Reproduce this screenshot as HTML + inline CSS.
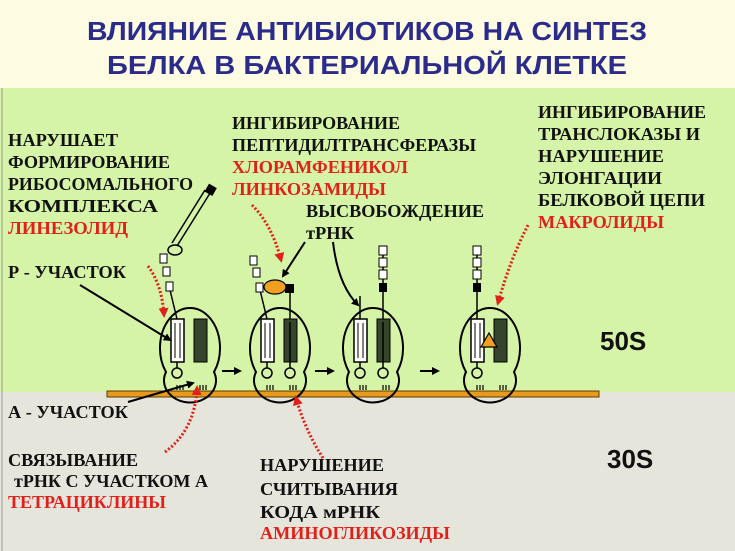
<!DOCTYPE html>
<html><head><meta charset="utf-8"><style>
html,body{margin:0;padding:0;width:735px;height:551px;overflow:hidden;background:#e6e5dc}
svg{display:block}
.t{font-family:"Liberation Serif",serif;font-size:18px;font-weight:bold;fill:#111}
.r{fill:#e0201a}
.h{font-family:"Liberation Sans",sans-serif;font-weight:bold;font-size:26px;fill:#2b2b8c}
</style></head><body>
<svg width="735" height="551" viewBox="0 0 735 551" xmlns="http://www.w3.org/2000/svg">
<defs>
<marker id="ab" markerWidth="8" markerHeight="8" refX="6" refY="4" orient="auto" markerUnits="userSpaceOnUse"><path d="M0,0 L8,4 L0,8 z" fill="#000"/></marker>
<marker id="ar" markerWidth="10" markerHeight="10" refX="7" refY="5" orient="auto" markerUnits="userSpaceOnUse"><path d="M0,0 L10,5 L0,10 z" fill="#e0201a"/></marker>
<g id="ribo">
<path d="M-24 372 A30 40 0 1 1 24 372 A26 22 0 1 1 -24 372 Z" fill="none" stroke="#000" stroke-width="2"/>
</g>
<g id="trnaL">
<rect x="-19" y="319" width="13" height="43" fill="#fff" stroke="#000" stroke-width="1.5"/>
<path d="M-15 323 V358 M-10 323 V358" stroke="#000" stroke-width="1"/>
<path d="M-13 362 V368" stroke="#000" stroke-width="1.5"/>
<ellipse cx="-13" cy="373" rx="5" ry="5" fill="none" stroke="#000" stroke-width="1.5"/>
</g>
<g id="cod"><path d="M-5 385 V390 M-2 385 V390 M1 385 V390" stroke="#000" stroke-width="1.2"/></g>
</defs>
<rect x="0" y="0" width="735" height="88" fill="#fdfbe2"/>
<rect x="0" y="88" width="735" height="304" fill="#d6f4a8"/>
<line x1="2" y1="88" x2="2" y2="551" stroke="#999" stroke-width="1"/>
<text class="h" x="367" y="40" text-anchor="middle" textLength="560" lengthAdjust="spacingAndGlyphs">ВЛИЯНИЕ АНТИБИОТИКОВ НА СИНТЕЗ</text>
<text class="h" x="367" y="74" text-anchor="middle" textLength="520" lengthAdjust="spacingAndGlyphs">БЕЛКА В БАКТЕРИАЛЬНОЙ КЛЕТКЕ</text>

<rect x="107" y="391" width="492" height="6" fill="#e89a1c" stroke="#5a3a00" stroke-width="1"/>

<g transform="translate(190,0)">
<use href="#ribo"/><use href="#trnaL"/>
<rect x="4" y="319" width="13" height="43" fill="#34452c" stroke="#000"/>
<g transform="translate(-8,0)"><use href="#cod"/></g><g transform="translate(15,0)"><use href="#cod"/></g>
<path d="M-13 319 L-20 290" stroke="#000" stroke-width="1.5" fill="none"/>
<rect x="-24" y="282" width="7" height="9" fill="#fff" stroke="#000"/>
<rect x="-27" y="267" width="7" height="9" fill="#fff" stroke="#000"/>
<rect x="-30" y="254" width="7" height="9" fill="#fff" stroke="#000"/>
</g>
<path d="M212 190 L177 246 M205 190 L172 243" stroke="#000" stroke-width="1.5"/>
<rect x="206" y="185" width="9" height="9" fill="#000" transform="rotate(30 210 190)"/>
<ellipse cx="175" cy="250" rx="7" ry="5" fill="none" stroke="#000" stroke-width="1.5"/>

<g transform="translate(280,0)">
<use href="#ribo"/><use href="#trnaL"/>
<rect x="4" y="319" width="13" height="43" fill="#34452c" stroke="#000"/>
<path d="M10 322 V362 M10 362 V368" stroke="#000" stroke-width="1.5"/>
<ellipse cx="10" cy="373" rx="5" ry="5" fill="none" stroke="#000" stroke-width="1.5"/>
<g transform="translate(-8,0)"><use href="#cod"/></g><g transform="translate(15,0)"><use href="#cod"/></g>
<path d="M-13 319 L-20 290" stroke="#000" stroke-width="1.5"/>
<path d="M10 319 V293" stroke="#000" stroke-width="1.5"/>
<rect x="5" y="284" width="9" height="9" fill="#000"/>
<ellipse cx="-5" cy="287" rx="11" ry="7" fill="#f0a020" stroke="#000" stroke-width="1.2"/>
<rect x="-24" y="283" width="7" height="9" fill="#fff" stroke="#000"/>
<rect x="-27" y="268" width="7" height="9" fill="#fff" stroke="#000"/>
<rect x="-30" y="256" width="7" height="9" fill="#fff" stroke="#000"/>
</g>

<g transform="translate(373,0)">
<use href="#ribo"/><use href="#trnaL"/>
<rect x="4" y="319" width="13" height="43" fill="#34452c" stroke="#000"/>
<path d="M10 322 V368" stroke="#000" stroke-width="1.5"/>
<ellipse cx="10" cy="373" rx="5" ry="5" fill="none" stroke="#000" stroke-width="1.5"/>
<g transform="translate(-8,0)"><use href="#cod"/></g><g transform="translate(15,0)"><use href="#cod"/></g>
<path d="M-13 319 V296" stroke="#000" stroke-width="1.5"/>
<path d="M10 319 V250" stroke="#000" stroke-width="1.5"/>
<rect x="6" y="283" width="8" height="9" fill="#000"/>
<rect x="6" y="270" width="8" height="9" fill="#fff" stroke="#000"/>
<rect x="6" y="258" width="8" height="9" fill="#fff" stroke="#000"/>
<rect x="6" y="246" width="8" height="9" fill="#fff" stroke="#000"/>
</g>

<g transform="translate(490,0)">
<use href="#ribo"/><use href="#trnaL"/>
<rect x="4" y="319" width="13" height="43" fill="#34452c" stroke="#000"/>
<g transform="translate(-8,0)"><use href="#cod"/></g><g transform="translate(15,0)"><use href="#cod"/></g>
<path d="M-13 319 V250" stroke="#000" stroke-width="1.5"/>
<rect x="-17" y="283" width="8" height="9" fill="#000"/>
<rect x="-17" y="270" width="8" height="9" fill="#fff" stroke="#000"/>
<rect x="-17" y="258" width="8" height="9" fill="#fff" stroke="#000"/>
<rect x="-17" y="246" width="8" height="9" fill="#fff" stroke="#000"/>
<path d="M-1 333 L-9 347 L7 347 Z" fill="#f0a020" stroke="#000" stroke-width="1.2"/>
</g>

<line x1="222" y1="371" x2="240" y2="371" stroke="#000" stroke-width="2" marker-end="url(#ab)"/>
<line x1="315" y1="371" x2="333" y2="371" stroke="#000" stroke-width="2" marker-end="url(#ab)"/>
<line x1="420" y1="371" x2="438" y2="371" stroke="#000" stroke-width="2" marker-end="url(#ab)"/>

<line x1="80" y1="285" x2="170" y2="340" stroke="#000" stroke-width="2" marker-end="url(#ab)"/>
<line x1="128" y1="402" x2="193" y2="383" stroke="#000" stroke-width="2" marker-end="url(#ab)"/>
<line x1="305" y1="242" x2="283" y2="276" stroke="#000" stroke-width="2" marker-end="url(#ab)"/>
<path d="M333 242 Q338 285 358 305" fill="none" stroke="#000" stroke-width="2" marker-end="url(#ab)"/>

<g fill="none" stroke="#e0201a" stroke-width="3" stroke-dasharray="2 2">
<path d="M148 266 Q162 285 164 315" marker-end="url(#ar)"/>
<path d="M252 205 Q272 225 281 260" marker-end="url(#ar)"/>
<path d="M528 225 Q510 260 498 303" marker-end="url(#ar)"/>
<path d="M165 452 Q195 430 197 388" marker-end="url(#ar)"/>
<path d="M323 458 Q305 430 296 398" marker-end="url(#ar)"/>
</g>

<g lengthAdjust="spacingAndGlyphs">
<text class="t" x="8" y="146" textLength="110" lengthAdjust="spacingAndGlyphs">НАРУШАЕТ</text>
<text class="t" x="8" y="168" textLength="162" lengthAdjust="spacingAndGlyphs">ФОРМИРОВАНИЕ</text>
<text class="t" x="8" y="190" textLength="185" lengthAdjust="spacingAndGlyphs">РИБОСОМАЛЬНОГО</text>
<text class="t" x="8" y="212" textLength="150" lengthAdjust="spacingAndGlyphs">КОМПЛЕКСА</text>
<text class="t r" x="8" y="234" textLength="120" lengthAdjust="spacingAndGlyphs">ЛИНЕЗОЛИД</text>
<text class="t" x="8" y="278" textLength="118" lengthAdjust="spacingAndGlyphs">Р - УЧАСТОК</text>
<text class="t" x="8" y="418" textLength="120" lengthAdjust="spacingAndGlyphs">А - УЧАСТОК</text>
<text class="t" x="8" y="466" textLength="130" lengthAdjust="spacingAndGlyphs">СВЯЗЫВАНИЕ</text>
<text class="t" x="14" y="487" textLength="194" lengthAdjust="spacingAndGlyphs">тРНК С УЧАСТКОМ А</text>
<text class="t r" x="8" y="508" textLength="158" lengthAdjust="spacingAndGlyphs">ТЕТРАЦИКЛИНЫ</text>
<text class="t" x="232" y="129" textLength="168" lengthAdjust="spacingAndGlyphs">ИНГИБИРОВАНИЕ</text>
<text class="t" x="232" y="151" textLength="244" lengthAdjust="spacingAndGlyphs">ПЕПТИДИЛТРАНСФЕРАЗЫ</text>
<text class="t r" x="232" y="173" textLength="176" lengthAdjust="spacingAndGlyphs">ХЛОРАМФЕНИКОЛ</text>
<text class="t r" x="232" y="195" textLength="154" lengthAdjust="spacingAndGlyphs">ЛИНКОЗАМИДЫ</text>
<text class="t" x="306" y="217" textLength="178" lengthAdjust="spacingAndGlyphs">ВЫСВОБОЖДЕНИЕ</text>
<text class="t" x="306" y="239" textLength="48" lengthAdjust="spacingAndGlyphs">тРНК</text>
<text class="t" x="538" y="118" textLength="168" lengthAdjust="spacingAndGlyphs">ИНГИБИРОВАНИЕ</text>
<text class="t" x="538" y="140" textLength="162" lengthAdjust="spacingAndGlyphs">ТРАНСЛОКАЗЫ И</text>
<text class="t" x="538" y="162" textLength="126" lengthAdjust="spacingAndGlyphs">НАРУШЕНИЕ</text>
<text class="t" x="538" y="184" textLength="124" lengthAdjust="spacingAndGlyphs">ЭЛОНГАЦИИ</text>
<text class="t" x="538" y="206" textLength="167" lengthAdjust="spacingAndGlyphs">БЕЛКОВОЙ ЦЕПИ</text>
<text class="t r" x="538" y="228" textLength="126" lengthAdjust="spacingAndGlyphs">МАКРОЛИДЫ</text>
<text class="t" x="260" y="471" textLength="124" lengthAdjust="spacingAndGlyphs">НАРУШЕНИЕ</text>
<text class="t" x="260" y="495" textLength="138" lengthAdjust="spacingAndGlyphs">СЧИТЫВАНИЯ</text>
<text class="t" x="260" y="518" textLength="120" lengthAdjust="spacingAndGlyphs">КОДА мРНК</text>
<text class="t r" x="260" y="539" textLength="190" lengthAdjust="spacingAndGlyphs">АМИНОГЛИКОЗИДЫ</text>
</g>

<text x="600" y="350" font-family="Liberation Sans,sans-serif" font-weight="bold" font-size="26" fill="#111">50S</text>
<text x="607" y="468" font-family="Liberation Sans,sans-serif" font-weight="bold" font-size="26" fill="#111">30S</text>
</svg>
</body></html>
